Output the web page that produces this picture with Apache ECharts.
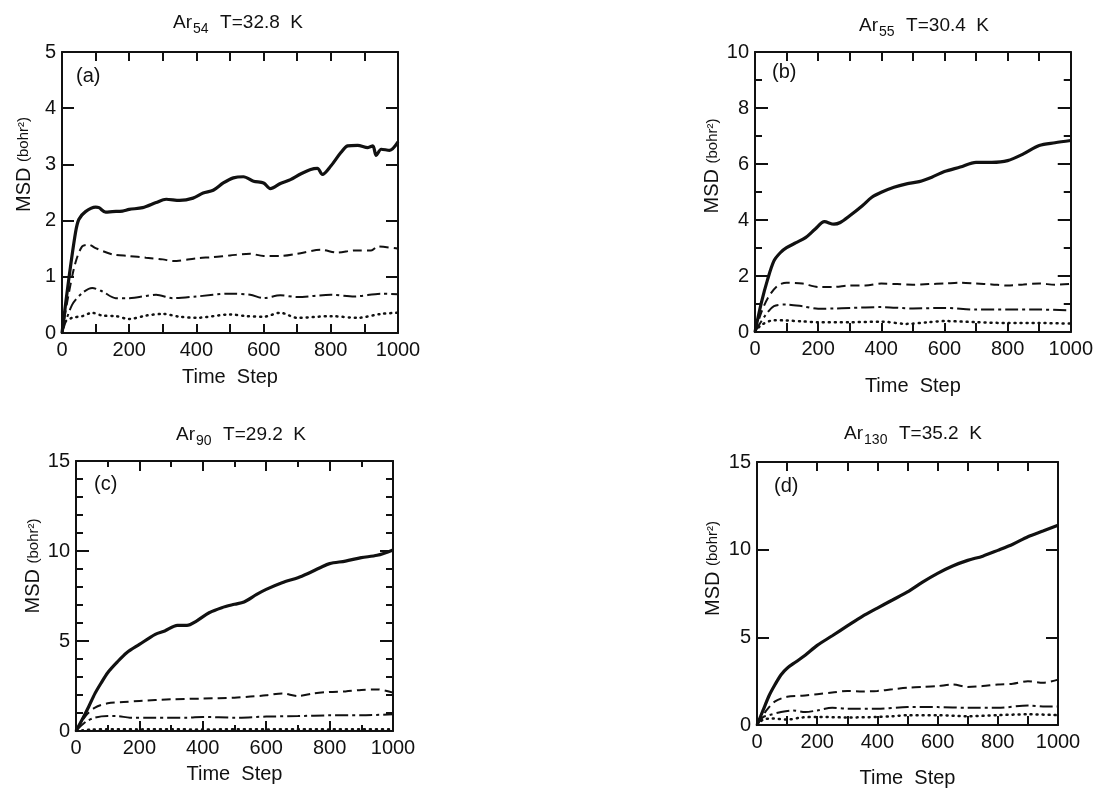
<!DOCTYPE html>
<html>
<head>
<meta charset="utf-8">
<script src="https://cdn.jsdelivr.net/npm/echarts@6/dist/echarts.min.js"></script>
<style>
  html, body { margin: 0; background: #fff; }
  #chart { width: 1096px; height: 789px; }
</style>
</head>
<body>
<div id="chart"></div>
<script>
const FONT = 'Liberation Sans';
const INK = '#111';

// (a) Ar54, T = 32.8 K  -- [time step, MSD]
const aSolid = [[0,0],[20,0.95],[40,1.78],[50,2.02],[70,2.16],[100,2.24],[110,2.23],[130,2.15],[150,2.16],[180,2.17],[200,2.2],[240,2.23],[280,2.32],[310,2.38],[350,2.36],[390,2.4],[420,2.49],[450,2.54],[480,2.67],[510,2.76],[540,2.78],[570,2.7],[600,2.67],[620,2.57],[650,2.66],[680,2.73],[710,2.83],[740,2.91],[760,2.93],[775,2.82],[800,2.97],[830,3.21],[850,3.33],[880,3.34],[910,3.3],[925,3.33],[935,3.16],[950,3.27],[975,3.25],[1000,3.4]];
const aDash = [[0,0],[20,0.7],[40,1.25],[60,1.54],[80,1.57],[100,1.51],[150,1.4],[200,1.37],[250,1.34],[300,1.31],[330,1.28],[400,1.33],[450,1.35],[500,1.38],[560,1.41],[600,1.37],[650,1.37],[700,1.41],[770,1.48],[820,1.43],[870,1.47],[920,1.47],[940,1.54],[1000,1.5]];
const aDashDot = [[0,0],[30,0.5],[60,0.71],[90,0.8],[120,0.74],[160,0.62],[200,0.62],[280,0.68],[330,0.62],[400,0.65],[500,0.7],[560,0.68],[600,0.62],[650,0.67],[700,0.64],[800,0.68],[870,0.65],[950,0.7],[1000,0.69]];
const aDot = [[0,0],[10,0.2],[30,0.27],[60,0.3],[90,0.36],[120,0.31],[160,0.3],[200,0.25],[250,0.31],[300,0.34],[350,0.29],[400,0.27],[500,0.33],[550,0.3],[600,0.29],[650,0.36],[700,0.27],[800,0.3],[880,0.27],[950,0.34],[1000,0.36]];

// (b) Ar55, T = 30.4 K
const bSolid = [[0,0],[20,1.04],[40,1.88],[60,2.54],[80,2.83],[100,3.01],[130,3.19],[160,3.37],[190,3.67],[220,3.94],[250,3.85],[270,3.91],[300,4.15],[340,4.51],[370,4.81],[400,4.99],[440,5.17],[480,5.29],[520,5.37],[560,5.53],[600,5.73],[650,5.89],[700,6.06],[750,6.06],[800,6.12],[850,6.36],[900,6.66],[950,6.76],[1000,6.84]];
const bDash = [[0,0],[20,0.7],[40,1.2],[70,1.64],[100,1.76],[150,1.73],[200,1.61],[250,1.61],[300,1.66],[350,1.66],[400,1.73],[450,1.71],[500,1.69],[550,1.71],[600,1.73],[650,1.76],[700,1.73],[750,1.7],[800,1.66],[850,1.7],[900,1.73],[950,1.69],[1000,1.72]];
const bDashDot = [[0,0],[30,0.55],[60,0.92],[100,0.98],[150,0.92],[200,0.83],[250,0.84],[300,0.86],[400,0.89],[500,0.84],[600,0.86],[700,0.8],[800,0.8],[900,0.8],[1000,0.77]];
const bDot = [[0,0],[20,0.25],[60,0.42],[100,0.41],[150,0.38],[200,0.35],[300,0.35],[400,0.37],[480,0.29],[550,0.35],[600,0.39],[700,0.35],[800,0.32],[900,0.32],[1000,0.3]];

// (c) Ar90, T = 29.2 K
const cSolid = [[0,0],[20,0.65],[40,1.35],[60,2.09],[80,2.69],[100,3.24],[130,3.83],[160,4.35],[200,4.81],[250,5.37],[280,5.56],[320,5.87],[350,5.87],[380,6.11],[420,6.57],[460,6.85],[500,7.04],[530,7.17],[570,7.59],[600,7.87],[650,8.24],[700,8.52],[730,8.74],[770,9.07],[800,9.3],[850,9.44],[900,9.63],[950,9.76],[1000,10.06]];
const cDash = [[0,0],[30,0.83],[60,1.3],[100,1.54],[150,1.61],[200,1.67],[300,1.76],[400,1.8],[500,1.85],[550,1.91],[600,1.98],[650,2.09],[700,1.94],[750,2.09],[800,2.17],[850,2.2],[900,2.28],[950,2.31],[1000,2.13]];
const cDashDot = [[0,0],[30,0.5],[60,0.74],[100,0.83],[130,0.83],[170,0.74],[250,0.74],[350,0.74],[400,0.78],[500,0.74],[600,0.8],[700,0.83],[800,0.87],[900,0.87],[1000,0.93]];
const cDot = [[0,0],[50,0.08],[100,0.1],[200,0.09],[300,0.1],[400,0.08],[500,0.1],[600,0.09],[700,0.1],[800,0.09],[900,0.1],[1000,0.1]];

// (d) Ar130, T = 35.2 K
const dSolid = [[0,0],[20,0.83],[40,1.67],[60,2.31],[80,2.87],[100,3.24],[130,3.61],[160,3.98],[200,4.54],[250,5.09],[300,5.65],[350,6.2],[400,6.67],[450,7.13],[500,7.59],[550,8.15],[600,8.65],[650,9.07],[700,9.39],[750,9.63],[800,9.96],[850,10.31],[900,10.74],[950,11.06],[1000,11.39]];
const dDash = [[0,0],[30,0.8],[60,1.35],[100,1.61],[150,1.67],[200,1.76],[250,1.85],[300,1.94],[350,1.91],[400,1.94],[450,2.04],[500,2.13],[550,2.17],[600,2.22],[650,2.31],[700,2.17],[750,2.22],[800,2.31],[850,2.35],[900,2.5],[950,2.41],[1000,2.59]];
const dDashDot = [[0,0],[20,0.45],[40,0.56],[80,0.74],[120,0.83],[160,0.74],[200,0.83],[250,0.98],[300,0.93],[400,0.93],[500,1.02],[600,1.02],[700,0.98],[800,0.98],[900,1.11],[950,1.06],[1000,1.06]];
const dDot = [[0,0],[20,0.3],[50,0.37],[100,0.31],[150,0.43],[200,0.46],[300,0.43],[400,0.46],[450,0.5],[500,0.56],[600,0.56],[700,0.5],[800,0.56],[900,0.61],[1000,0.56]];

const lineStyles = [
  { type: 'solid', width: 3.2 },
  { type: [9, 5], width: 2 },
  { type: [13, 4, 3, 4], width: 2 },
  { type: [1, 5], width: 2.5, cap: 'round' },
];

const panels = [
  { grid: { left: 62, top: 52, width: 336, height: 281 }, num: '54', rest: '  T=32.8  K', tx: 238, ty: 13, tag: '(a)', tagX: 76, tagY: 66,
    yMax: 5, yInt: 1, yMinor: 0, yTick: 12, yMinorLen: 0, xTick: 9, xMinorLen: 9, xNameGap: 34, yNameGap: 28, yShift: 56,
    lines: [aSolid, aDash, aDashDot, aDot] },
  { grid: { left: 755, top: 52, width: 317, height: 280 }, num: '55', rest: '  T=30.4  K', tx: 924, ty: 16, tag: '(b)', tagX: 772, tagY: 62,
    yMax: 10, yInt: 2, yMinor: 2, yTick: 13, yMinorLen: 7, xTick: 9, xMinorLen: 9, xNameGap: 44, yNameGap: 28, yShift: 52,
    lines: [bSolid, bDash, bDashDot, bDot] },
  { grid: { left: 76, top: 461, width: 317, height: 270 }, num: '90', rest: '  T=29.2  K', tx: 241, ty: 425, tag: '(c)', tagX: 94, tagY: 474,
    yMax: 15, yInt: 5, yMinor: 5, yTick: 13, yMinorLen: 7, xTick: 10, xMinorLen: 6, xNameGap: 33, yNameGap: 32, yShift: 60,
    lines: [cSolid, cDash, cDashDot, cDot] },
  { grid: { left: 757, top: 462, width: 301, height: 271 }, num: '130', rest: '  T=35.2  K', tx: 913, ty: 424, tag: '(d)', tagX: 774, tagY: 476,
    yMax: 15, yInt: 5, yMinor: 0, yTick: 12, yMinorLen: 0, xTick: 9, xMinorLen: 9, xNameGap: 43, yNameGap: 34, yShift: 50,
    lines: [dSolid, dDash, dDashDot, dDot] },
];

const grid = [], xAxis = [], yAxis = [], series = [], title = [], graphic = [];
const tickLine = { color: INK, width: 2 };
const labelStyle = { color: INK, fontSize: 20, fontFamily: FONT, formatter: v => String(v) };

panels.forEach((p, i) => {
  grid.push(p.grid);

  const xBase = {
    gridIndex: i, type: 'value', min: 0, max: 1000, interval: 200,
    axisLine: { show: true, onZero: false, lineStyle: tickLine },
    axisTick: { inside: true, length: p.xTick, lineStyle: tickLine },
    minorTick: { show: true, splitNumber: 2, length: p.xMinorLen, lineStyle: tickLine },
    splitLine: { show: false }, minorSplitLine: { show: false },
  };
  xAxis.push(Object.assign({}, xBase, {
    position: 'bottom',
    axisLabel: Object.assign({ margin: 7 }, labelStyle),
    name: 'Time  Step', nameLocation: 'middle', nameGap: p.xNameGap,
    nameTextStyle: { color: INK, fontSize: 20, fontFamily: FONT },
  }));
  xAxis.push(Object.assign({}, xBase, { position: 'top', axisLabel: { show: false } }));

  const yBase = {
    gridIndex: i, type: 'value', min: 0, max: p.yMax, interval: p.yInt,
    axisLine: { show: true, onZero: false, lineStyle: tickLine },
    axisTick: { inside: true, length: p.yTick, lineStyle: tickLine },
    minorTick: { show: p.yMinor > 0, splitNumber: p.yMinor || 5, length: p.yMinorLen, lineStyle: tickLine },
    splitLine: { show: false }, minorSplitLine: { show: false },
  };
  yAxis.push(Object.assign({}, yBase, {
    position: 'left',
    axisLabel: Object.assign({ margin: 6 }, labelStyle),
    name: 'MSD {u|(bohr²)}', nameLocation: 'middle', nameGap: p.yNameGap,
    nameTextStyle: {
      color: INK, fontSize: 20, fontFamily: FONT, padding: [0, 0, 0, p.yShift],
      rich: { u: { fontSize: 15, fontFamily: FONT, color: INK } },
    },
  }));
  yAxis.push(Object.assign({}, yBase, { position: 'right', axisLabel: { show: false } }));

  title.push({
    text: '{m|Ar}{s|' + p.num + '}{m|' + p.rest + '}',
    left: p.tx, top: p.ty, textAlign: 'center', padding: 0,
    textStyle: {
      fontWeight: 'normal',
      rich: {
        m: { fontSize: 19, fontFamily: FONT, fontWeight: 'normal', color: INK, verticalAlign: 'top' },
        s: { fontSize: 14, fontFamily: FONT, fontWeight: 'normal', color: INK, verticalAlign: 'top', padding: [9, 1, 0, 1] },
      },
    },
  });

  graphic.push({
    type: 'text', left: p.tagX, top: p.tagY,
    style: { text: p.tag, font: '20px "' + FONT + '"', fill: INK },
  });

  p.lines.forEach((pts, k) => {
    const ls = lineStyles[k];
    series.push({
      type: 'line', xAxisIndex: 2 * i, yAxisIndex: 2 * i,
      data: pts, smooth: 0.3, showSymbol: false, symbol: 'none',
      lineStyle: { color: INK, width: ls.width, type: ls.type, cap: ls.cap || 'butt' },
      z: 3,
    });
  });
});

const chart = echarts.init(document.getElementById('chart'));
chart.setOption({
  backgroundColor: '#fff',
  animation: false,
  title, grid, xAxis, yAxis, series, graphic,
});
</script>
</body>
</html>
